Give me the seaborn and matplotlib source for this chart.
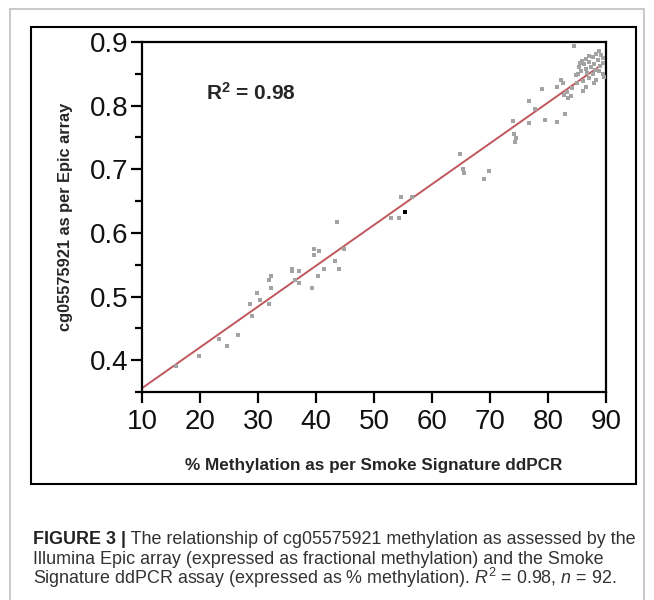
import matplotlib
matplotlib.use("Agg")
import matplotlib.pyplot as plt
import seaborn as sns
from matplotlib.patches import Rectangle
from matplotlib.ticker import MultipleLocator

# ---- data ----
ddpcr_pct = [15.9, 19.9, 23.3, 24.6, 26.6, 28.6, 28.9, 29.9, 30.3, 31.9,
             31.9, 32.3, 32.3, 35.9, 35.9, 37.0, 36.3, 37.0, 39.3, 39.6,
             39.6, 40.6, 40.3, 41.3, 43.3, 43.9, 43.6, 44.9, 53.0, 54.3,
             54.6, 56.5, 64.9, 65.3, 65.6, 68.9, 69.8, 73.9, 74.2, 74.5,
             74.3, 76.7, 76.8, 77.8, 79.0, 79.4, 81.6, 83.0, 81.6, 82.2,
             82.5, 82.8, 83.5, 83.9, 84.2, 84.5, 88.8, 89.1, 88.3, 87.7,
             87.0, 86.5, 85.8, 85.5, 86.2, 87.1, 88.7, 89.4, 87.4, 86.5,
             85.7, 88.1, 88.8, 89.4, 87.7, 87.0, 88.3, 85.1, 86.0, 86.5,
             86.0, 89.6, 89.5, 88.0, 86.8, 85.3, 87.9, 89.0, 84.8, 85.0,
             83.2]
epic_beta = [0.391, 0.406, 0.434, 0.422, 0.440, 0.489, 0.470, 0.505, 0.495, 0.489,
             0.526, 0.532, 0.513, 0.544, 0.540, 0.540, 0.526, 0.522, 0.513, 0.575,
             0.565, 0.571, 0.532, 0.544, 0.556, 0.544, 0.617, 0.575, 0.623, 0.623,
             0.657, 0.656, 0.724, 0.700, 0.694, 0.685, 0.697, 0.776, 0.755, 0.749,
             0.743, 0.807, 0.773, 0.794, 0.826, 0.778, 0.774, 0.787, 0.829, 0.841,
             0.835, 0.817, 0.812, 0.815, 0.828, 0.893, 0.886, 0.880, 0.881, 0.876,
             0.878, 0.874, 0.870, 0.867, 0.865, 0.869, 0.871, 0.867, 0.860, 0.857,
             0.854, 0.856, 0.854, 0.850, 0.849, 0.843, 0.841, 0.849, 0.838, 0.829,
             0.823, 0.845, 0.875, 0.866, 0.852, 0.860, 0.835, 0.862, 0.848, 0.835,
             0.822]
highlight_x = [55.3]
highlight_y = [0.633]
fit_x = [10, 90]
fit_y = [0.356, 0.869]
x_ticks = [10, 20, 30, 40, 50, 60, 70, 80, 90]
y_ticks = [0.4, 0.5, 0.6, 0.7, 0.8, 0.9]
r2_label = "R$^\\mathbf{2}$ = 0.98"
x_label = "% Methylation as per Smoke Signature ddPCR"
y_label = "cg05575921 as per Epic array"
cap_bold = "FIGURE 3 |"
cap_lines = [" The relationship of cg05575921 methylation as assessed by the",
             "Illumina Epic array (expressed as fractional methylation) and the Smoke",
             "Signature ddPCR assay (expressed as % methylation). $R^2$ = 0.98, $n$ = 92."]

sns.set_style("ticks")
plt.rcParams["font.family"] = ["Liberation Sans", "DejaVu Sans"]
plt.rcParams["mathtext.fontset"] = "custom"
plt.rcParams["mathtext.rm"] = "Liberation Sans"
plt.rcParams["mathtext.it"] = "Liberation Sans:italic"
plt.rcParams["mathtext.bf"] = "Liberation Sans:bold"

W, H = 654, 600
fig = plt.figure(figsize=(W / 100, H / 100), dpi=100)
fig.patch.set_facecolor("white")

def fx(px):
    return px / W

def fy(py):
    return 1 - py / H

# outer light frame (open at the bottom edge of the canvas) and inner black box
fig.patches.append(Rectangle((fx(10), fy(640)), fx(634), (640 - 9) / H,
                             transform=fig.transFigure, fill=False,
                             edgecolor="#c4c4c4", linewidth=1.3, clip_on=False))
fig.patches.append(Rectangle((fx(31), fy(484)), fx(605), (484 - 27) / H,
                             transform=fig.transFigure, fill=False,
                             edgecolor="black", linewidth=1.5))

ax = fig.add_axes([fx(142), fy(392), fx(606 - 142), (392 - 42) / H])

sns.lineplot(x=fit_x, y=fit_y, ax=ax, color="#c0575c", linewidth=1.4, zorder=2)
sns.scatterplot(x=ddpcr_pct, y=epic_beta, ax=ax, color="#a3a3a3", marker="s",
                s=12, linewidth=0, zorder=3)
sns.scatterplot(x=highlight_x, y=highlight_y, ax=ax, color="black", marker="s",
                s=11, linewidth=0, zorder=4)

ax.set_xlim(10, 90)
ax.set_ylim(0.35, 0.9)
ax.set_xticks(x_ticks)
ax.set_yticks(y_ticks)
ax.yaxis.set_minor_locator(MultipleLocator(0.05))
ax.set_xticklabels([str(t) for t in x_ticks])
ax.set_yticklabels([f"{t:.1f}" for t in y_ticks])
for s in ax.spines.values():
    s.set_visible(True)
    s.set_linewidth(1.6)
    s.set_color("black")
ax.tick_params(axis="both", which="major", direction="out", length=8, width=1.6,
               labelsize=20, color="black", labelcolor="#111111")
ax.tick_params(axis="x", pad=4)
ax.tick_params(axis="y", pad=2)
ax.tick_params(axis="y", which="minor", direction="out", length=5, width=1.6,
               color="black")
ax.grid(False)

lab_font = ["Liberation Sans", "DejaVu Sans"]
ax.set_xlabel(x_label, fontsize=12.3, fontweight="bold", family=lab_font, labelpad=17)
ax.set_ylabel(y_label, fontsize=11.8, fontweight="bold", family=lab_font, labelpad=12)

ax.text(21.0, 0.82, r2_label, fontsize=15, fontweight="bold", family=lab_font,
        ha="left", va="center")

# caption
cap_font = ["Liberation Sans", "DejaVu Sans"]
cap_size = 12.9
x0 = fx(33)
line_y = [540, 559, 578]
fig.canvas.draw()
renderer = fig.canvas.get_renderer()
tb = fig.text(x0, fy(line_y[0]), cap_bold, fontsize=cap_size, fontweight="bold",
              family=cap_font, va="center", ha="left", color="#222222")
bb = tb.get_window_extent(renderer=renderer)
fig.text(bb.x1 / W, fy(line_y[0]), cap_lines[0], fontsize=cap_size,
         family=cap_font, va="center", ha="left", color="#333333")
for ln, yy in zip(cap_lines[1:], line_y[1:]):
    fig.text(x0, fy(yy), ln, fontsize=cap_size, family=cap_font,
             va="center", ha="left", color="#333333")

fig.savefig("out.png", dpi=100, facecolor="white")
